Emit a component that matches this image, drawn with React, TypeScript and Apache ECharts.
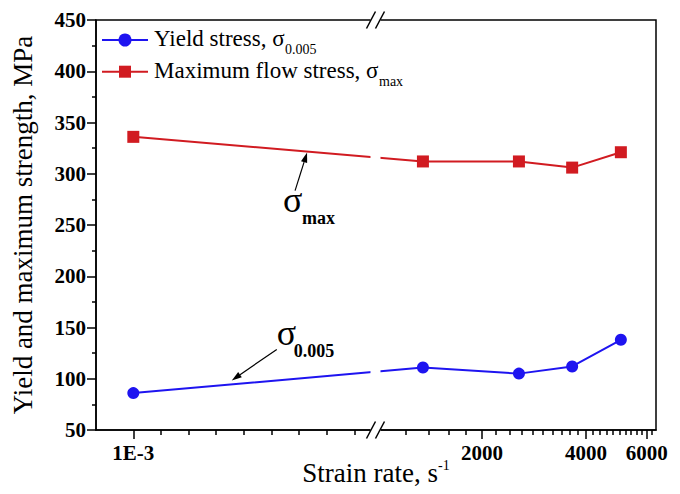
import React, { useEffect, useRef } from 'react';
import * as echarts from 'echarts';

const SERIF = '"Liberation Serif", "Times New Roman", serif';

// Measured points: strain rate (s^-1) against stress (MPa)
const strainRates = [1e-3, 1350, 2560, 3650, 5050];
const yieldStress = [86, 111, 105, 112, 138];
const maxFlowStress = [336, 312, 312, 306, 321];

const seriesNames = ['Yield stress, σ0.005', 'Maximum flow stress, σmax'];
const legendMain = ['Yield stress, σ', 'Maximum flow stress, σ'];
const legendSub = ['0.005', 'max'];
const seriesSymbols = ['circle', 'rect'];
const seriesColors = ['#1e14f0', '#d11b21'];

const xTickRates = [1e-3, 2000, 4000, 6000];
const xTickLabels = ['1E-3', '2000', '4000', '6000'];

// Broken strain-rate axis: right of the break the axis runs in log10(rate);
// the quasi-static rate sits in a compressed segment left of the break.
const AXIS_MIN = 2.184;
const AXIS_MAX = 3.805;
const BREAK_POS = 2.993;
const QUASI_STATIC_POS = 2.292;
const LOW_DECADE = 0.35;
const axisPos = (rate: number) =>
  rate < 1 ? QUASI_STATIC_POS + LOW_DECADE * Math.log10(rate / 1e-3) : Math.log10(rate);

const majorTicks = xTickRates.map(axisPos);
const minorTicks: number[] = [];
for (let i = 1; i <= 8; i++) minorTicks.push(QUASI_STATIC_POS + 0.08 * i);
for (let r = 1200; r <= 6200; r += 200) if (!xTickRates.includes(r)) minorTicks.push(Math.log10(r));

const toPoints = (values: number[]) => strainRates.map((r, i) => [axisPos(r), values[i]]);

const measure = (() => {
  const ctx = document.createElement('canvas').getContext('2d');
  return (text: string, font: string) => {
    if (!ctx) return text.length * 10;
    ctx.font = font;
    return ctx.measureText(text).width;
  };
})();

export default function App() {
  const ref = useRef<HTMLDivElement>(null);

  useEffect(() => {
    if (!ref.current) return;
    const chart = echarts.init(ref.current, null, { renderer: 'svg' });

    const axisLineStyle = { color: '#000', width: 1.5 };
    const tickLabel = { color: '#000', fontFamily: SERIF, fontSize: 21, fontWeight: 'bold' as const };

    chart.setOption({
      animation: false,
      backgroundColor: '#fff',
      grid: {
        left: 96, right: 24, top: 20, bottom: 64,
        show: true, borderColor: '#000', borderWidth: 1.5,
        outerBoundsMode: 'none',
      },
      xAxis: [
        {
          type: 'value',
          min: AXIS_MIN,
          max: AXIS_MAX,
          position: 'bottom',
          name: '{t|Strain rate, s}{u|-1}',
          nameLocation: 'middle',
          nameGap: 28,
          nameMoveOverlap: false,
          nameTextStyle: {
            color: '#000',
            fontFamily: SERIF,
            fontSize: 27,
            rich: {
              t: { color: '#000', fontFamily: SERIF, fontSize: 27, lineHeight: 30 },
              u: { color: '#000', fontFamily: SERIF, fontSize: 14, lineHeight: 14, verticalAlign: 'top' },
            },
          },
          axisLine: { show: true, lineStyle: axisLineStyle },
          axisTick: { show: true, length: 9, lineStyle: axisLineStyle, customValues: majorTicks },
          axisLabel: {
            ...tickLabel,
            margin: 12,
            customValues: majorTicks,
            formatter: (v: number) => {
              const i = majorTicks.findIndex((t) => Math.abs(t - v) < 1e-6);
              return i >= 0 ? xTickLabels[i] : '';
            },
          },
          splitLine: { show: false },
        },
        {
          type: 'value',
          min: AXIS_MIN,
          max: AXIS_MAX,
          position: 'bottom',
          axisLine: { show: false },
          axisTick: { show: true, length: 5, lineStyle: axisLineStyle, customValues: minorTicks },
          axisLabel: { show: false, customValues: minorTicks },
          splitLine: { show: false },
        },
      ],
      yAxis: {
        type: 'value',
        min: 50,
        max: 450,
        interval: 50,
        name: 'Yield and maximum strength, MPa',
        nameLocation: 'middle',
        nameGap: 60,
        nameMoveOverlap: false,
        nameTextStyle: { color: '#000', fontFamily: SERIF, fontSize: 27 },
        axisLine: { show: true, lineStyle: axisLineStyle },
        axisTick: { show: true, length: 9, lineStyle: axisLineStyle },
        minorTick: { show: true, splitNumber: 2, length: 4, lineStyle: axisLineStyle },
        axisLabel: { ...tickLabel, margin: 10 },
        splitLine: { show: false },
      },
      series: [
        {
          name: seriesNames[0],
          type: 'line',
          data: toPoints(yieldStress),
          symbol: seriesSymbols[0],
          symbolSize: 12,
          lineStyle: { color: seriesColors[0], width: 2 },
          itemStyle: { color: seriesColors[0] },
        },
        {
          name: seriesNames[1],
          type: 'line',
          data: toPoints(maxFlowStress),
          symbol: seriesSymbols[1],
          symbolSize: 12,
          lineStyle: { color: seriesColors[1], width: 2 },
          itemStyle: { color: seriesColors[1] },
        },
      ],
    });

    // Break marks, legend, callouts and arrows, placed from the chart's own coordinate system
    const toPx = (u: number, v: number) => chart.convertToPixel({ seriesIndex: 0 }, [u, v]) as number[];
    const lerp = (a: number[], b: number[], f: number) => [a[0] + (b[0] - a[0]) * f, a[1] + (b[1] - a[1]) * f];

    const [gridLeft, gridTop] = toPx(AXIS_MIN, 450);
    const bx = toPx(BREAK_POS, 450)[0];
    const gridBottom = toPx(BREAK_POS, 50)[1];

    const slashes = (y: number) => [
      { type: 'line', z: 120, shape: { x1: bx - 9, y1: y + 8.5, x2: bx, y2: y - 8.5 }, style: { stroke: '#000', lineWidth: 1.5 } },
      { type: 'line', z: 120, shape: { x1: bx, y1: y + 8.5, x2: bx + 9, y2: y - 8.5 }, style: { stroke: '#000', lineWidth: 1.5 } },
    ];

    // Legend: line sample with marker, name, lowered subscript (drawn above the break gap)
    const LEGEND_FONT = 23;
    const SUB_FONT = 14;
    const legendItems = seriesNames.flatMap((_, i) => {
      const cy = gridTop + 20 + i * 31.7;
      const x0 = gridLeft + 6;
      const color = seriesColors[i];
      const mx = x0 + 23;
      const marker =
        seriesSymbols[i] === 'circle'
          ? { type: 'circle', z: 130, shape: { cx: mx, cy, r: 6.5 }, style: { fill: color } }
          : { type: 'rect', z: 130, shape: { x: mx - 6, y: cy - 6, width: 12, height: 12 }, style: { fill: color } };
      const tx = x0 + 52;
      const mainW = measure(legendMain[i], `${LEGEND_FONT}px ${SERIF}`);
      const baseline = cy + 6.7;
      return [
        { type: 'line', z: 130, shape: { x1: x0, y1: cy, x2: x0 + 46, y2: cy }, style: { stroke: color, lineWidth: 2 } },
        marker,
        {
          type: 'text', z: 130, x: tx, y: baseline - 0.3375 * LEGEND_FONT,
          style: { text: legendMain[i], fill: '#000', fontFamily: SERIF, fontSize: LEGEND_FONT, align: 'left', verticalAlign: 'middle' },
        },
        {
          type: 'text', z: 130, x: tx + mainW + 0.5, y: baseline + 7.5 - 0.3375 * SUB_FONT,
          style: { text: legendSub[i], fill: '#000', fontFamily: SERIF, fontSize: SUB_FONT, align: 'left', verticalAlign: 'middle' },
        },
      ];
    });

    const arrow = (tail: number[], tip: number[]) => {
      const dx = tip[0] - tail[0];
      const dy = tip[1] - tail[1];
      const len = Math.hypot(dx, dy);
      const ux = dx / len;
      const uy = dy / len;
      const hl = 10;
      const hw = 3.2;
      const base = [tip[0] - ux * hl, tip[1] - uy * hl];
      return [
        { type: 'line', z: 110, shape: { x1: tail[0], y1: tail[1], x2: base[0], y2: base[1] }, style: { stroke: '#000', lineWidth: 1.2 } },
        {
          type: 'polygon',
          z: 110,
          shape: { points: [tip, [base[0] - uy * hw, base[1] + ux * hw], [base[0] + uy * hw, base[1] - ux * hw]] },
          style: { fill: '#000' },
        },
      ];
    };

    const sigma = (x: number, glyphCenterY: number) => ({
      type: 'text', z: 110, x, y: glyphCenterY - 3.9,
      style: { text: 'σ', fill: '#000', fontFamily: SERIF, fontSize: 36, align: 'left', verticalAlign: 'middle' },
    });
    const subscript = (text: string, x: number, baseline: number) => ({
      type: 'text', z: 110, x, y: baseline - 6.1,
      style: { text, fill: '#000', fontFamily: SERIF, fontSize: 18, fontWeight: 'bold', align: 'left', verticalAlign: 'middle' },
    });

    const red0 = toPx(axisPos(strainRates[0]), maxFlowStress[0]);
    const red1 = toPx(axisPos(strainRates[1]), maxFlowStress[1]);
    const blue0 = toPx(axisPos(strainRates[0]), yieldStress[0]);
    const blue1 = toPx(axisPos(strainRates[1]), yieldStress[1]);

    const maxTip = lerp(red0, red1, 0.6);
    maxTip[1] += 1;
    const yieldTip = lerp(blue0, blue1, 0.34);
    yieldTip[1] -= 4;

    chart.setOption({
      graphic: [
        {
          type: 'rect', z: 100,
          shape: { x: bx - 5, y: gridTop - 10, width: 10, height: gridBottom - gridTop + 20 },
          style: { fill: '#fff' },
        },
        ...slashes(gridTop),
        ...slashes(gridBottom),
        ...legendItems,
        ...arrow([maxTip[0] - 12, maxTip[1] + 38], maxTip),
        sigma(maxTip[0] - 24, maxTip[1] + 51),
        subscript('max', maxTip[0] - 5, maxTip[1] + 71.5),
        ...arrow([yieldTip[0] + 45, yieldTip[1] - 31], yieldTip),
        sigma(yieldTip[0] + 45, yieldTip[1] - 43),
        subscript('0.005', yieldTip[0] + 62, yieldTip[1] - 23),
      ],
    });

    return () => chart.dispose();
  }, []);

  return <div ref={ref} style={{ position: 'fixed', left: 0, top: 0, width: 680, height: 494 }} />;
}
